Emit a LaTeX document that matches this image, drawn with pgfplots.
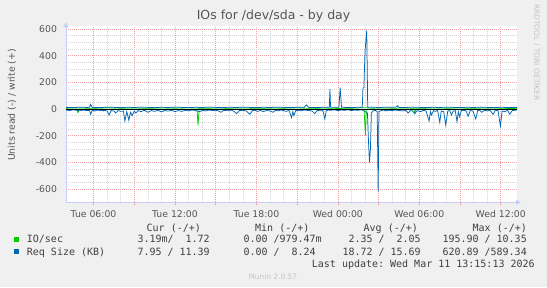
\documentclass[border=0pt]{standalone}
\usepackage{fontspec}
\setmainfont{DejaVu Sans}
\newfontfamily\monof{DejaVu Sans Mono}
\usepackage{pgfplots}
\pgfplotsset{compat=1.18}
\usetikzlibrary{arrows.meta}
\definecolor{bgcol}{HTML}{F0F0F0}
\definecolor{axiscol}{HTML}{C8CDF5}
\definecolor{mgridcol}{HTML}{F0A0A0}
\definecolor{gridcol}{HTML}{D4D4D4}
\definecolor{labelcol}{HTML}{555555}
\definecolor{legcol}{HTML}{404040}
\definecolor{iocol}{HTML}{00CC00}
\definecolor{reqcol}{HTML}{0066B3}
\definecolor{faint}{HTML}{C4C4C4}
\newcommand\ticksfont{\fontsize{9.3}{11}\selectfont}
\begin{document}
\begin{tikzpicture}
\fill[bgcol] (0pt,0pt) rectangle (547pt,-287pt);
\useasboundingbox (0pt,0pt) rectangle (547pt,-287pt);
\begin{axis}[
  at={(66pt,-202.3pt)}, anchor=south west,
  scale only axis, width=451pt, height=176pt,
  xmin=3.97, xmax=37.2, ymin=-700, ymax=620,
  axis lines=left,
  axis line style={draw=axiscol, line width=0.8pt, -{Triangle[length=5pt,width=5pt]}, shorten >=-4pt},
  axis background/.style={fill=white},
  xtick={6,9,...,36},
  xticklabels={Tue 06:00,,Tue 12:00,,Tue 18:00,,Wed 00:00,,Wed 06:00,,Wed 12:00},
  minor x tick num=2,
  ytick={-600,-400,-200,0,200,400,600},
  yticklabels={-600,-400,-200,0,200,400,600},
  minor y tick num=3,
  grid=both,
  major grid style={draw=mgridcol, dash pattern=on 1pt off 1pt, line width=0.5pt},
  minor grid style={draw=gridcol, dash pattern=on 1pt off 1pt, line width=0.5pt},
  tick align=outside, major tick length=2.5pt, minor tick length=0pt,
  xtick style={draw=mgridcol, line width=0.6pt},
  ytick style={draw=none},
  ticklabel style={font=\ticksfont, text=labelcol},
  xticklabel style={yshift=-2pt},
  yticklabel style={xshift=-3pt},
]
% IO/sec read (negative)
\addplot[iocol, line width=0.75pt] coordinates {
(3.97,-1)(4.5,-2)(4.75,-2)(4.85,-28)(4.95,-2)(5.5,-1)(6.0,-2)(6.65,-1)(6.75,-15)(6.85,-1)(7.5,-2)(8.0,-3)(8.5,-1)(9,-2)(9.5,-4)(10,-1)(10.5,-2)(11,-3)(11.2,-10)(11.4,-1)(12,-2)(12.5,-1)(13,-3)(13.5,-2)(13.62,-2)(13.7,-122)(13.78,-2)(14.5,-1)(15,-3)(15.5,-2)(16,-1)(16.5,-3)(17,-2)(17.5,-1)(18,-2)(18.5,-3)(19,-1)(19.5,-2)(20,-1)(20.5,-3)(21,-2)(21.5,-1)(22,-2)(22.5,-1)(23,-3)(23.5,-2)(24,-1)(24.5,-2)(25,-1)(25.5,-2)(25.93,-3)(26.03,-196)(26.1,-3)(26.5,-5)(27,-2)(27.4,-3)(27.5,-15)(27.6,-2)(28,-1)(28.5,-2)(29,-3)(29.6,-2)(29.67,-30)(29.75,-2)(30.5,-1)(31,-2)(31.5,-3)(32,-1)(32.5,-2)(33,-4)(33.5,-1)(34,-2)(34.5,-3)(35,-1)(35.5,-2)(36,-1)(36.5,-2)(37.2,0)
};
% IO/sec write (positive)
\addplot[iocol, line width=0.75pt] coordinates {
(3.97,6)(5,8)(6,5)(7,9)(8,6)(9,7)(10,5)(11,8)(12,6)(13,9)(14,5)(15,7)(16,6)(17,8)(18,5)(19,7)(20,6)(21,9)(22,5)(23,7)(24,4)(25,6)(26,10)(26.5,5)(27,8)(28,6)(29,7)(30,5)(31,8)(32,6)(33,7)(34,5)(35,8)(36,6)(37.2,2)
};
% Req Size read (negative)
\addplot[reqcol, line width=0.75pt] coordinates {
(3.97,-8)(4.25,-12)(4.5,-6)(4.75,-10)(5.0,-14)(5.25,-8)(5.5,-12)(5.7,-10)(5.79,-40)(5.9,-10)(6.1,-15)(6.3,-8)(6.5,-12)(6.75,-10)(7.0,-14)(7.14,-45)(7.3,-12)(7.5,-15)(7.63,-30)(7.8,-12)(8.0,-18)(8.2,-15)(8.31,-90)(8.45,-20)(8.6,-85)(8.72,-25)(8.85,-50)(9.0,-15)(9.12,-30)(9.3,-12)(9.5,-20)(9.75,-10)(10.0,-25)(10.25,-12)(10.5,-18)(10.75,-10)(11.0,-22)(11.25,-12)(11.5,-16)(11.75,-10)(12.0,-20)(12.25,-12)(12.5,-18)(12.75,-10)(13.0,-14)(13.25,-8)(13.5,-12)(13.84,-20)(14.0,-10)(14.25,-15)(14.5,-8)(14.75,-12)(15.0,-10)(15.2,-14)(15.38,-25)(15.6,-10)(15.85,-14)(16.1,-8)(16.3,-15)(16.54,-35)(16.75,-12)(17.0,-10)(17.25,-15)(17.52,-40)(17.7,-12)(17.9,-10)(18.1,-18)(18.3,-10)(18.5,-20)(18.75,-12)(19.0,-14)(19.21,-25)(19.4,-10)(19.6,-14)(19.8,-8)(20.0,-12)(20.2,-18)(20.4,-10)(20.59,-65)(20.68,-20)(20.76,-50)(20.9,-12)(21.1,-10)(21.3,-14)(21.5,-8)(21.69,-10)(21.9,-12)(22.1,-15)(22.3,-35)(22.5,-10)(22.7,-14)(22.9,-12)(23.04,-75)(23.15,-12)(23.3,-8)(23.5,-10)(23.75,-6)(24.0,-12)(24.25,-8)(24.5,-10)(24.75,-6)(25.0,-12)(25.25,-8)(25.5,-10)(25.75,-6)(25.95,-15)(26.1,-25)(26.18,-30)(26.26,-250)(26.33,-400)(26.4,-300)(26.47,-30)(26.6,-15)(26.75,-10)(26.9,-20)(26.97,-620)(27.03,-20)(27.2,-12)(27.4,-8)(27.6,-14)(27.8,-10)(28.0,-12)(28.2,-8)(28.4,-10)(28.6,-12)(28.8,-15)(29.0,-10)(29.18,-30)(29.35,-12)(29.5,-15)(29.67,-35)(29.85,-12)(30.1,-20)(30.3,-10)(30.5,-15)(30.72,-90)(30.82,-20)(30.9,-45)(31.05,-12)(31.2,-18)(31.35,-10)(31.51,-100)(31.62,-15)(31.8,-20)(31.95,-120)(32.1,-15)(32.25,-12)(32.37,-45)(32.5,-15)(32.65,-12)(32.78,-95)(32.88,-20)(32.98,-60)(33.1,-12)(33.3,-10)(33.45,-15)(33.6,-55)(33.75,-12)(33.95,-15)(34.16,-75)(34.3,-12)(34.45,-10)(34.6,-25)(34.8,-10)(35.0,-14)(35.2,-8)(35.44,-40)(35.6,-10)(35.8,-12)(35.98,-130)(36.1,-15)(36.3,-20)(36.5,-10)(36.67,-40)(36.85,-12)(37.0,-10)(37.2,-8)
};
% Req Size write (positive)
\addplot[reqcol, line width=0.75pt] coordinates {
(3.97,12)(4.5,10)(5.0,14)(5.5,11)(5.7,13)(5.79,35)(5.9,12)(6.5,10)(7.0,14)(7.5,12)(8.0,10)(8.5,13)(9.0,11)(9.5,14)(10,12)(10.5,10)(11,13)(11.5,11)(12,14)(12.5,12)(13,10)(13.5,13)(14,11)(14.5,14)(15,12)(15.5,10)(16,13)(16.5,11)(17,14)(17.5,12)(18,10)(18.5,13)(19,11)(19.5,14)(20,12)(20.5,10)(21,13)(21.5,12)(21.69,30)(21.85,12)(22.5,11)(23,13)(23.37,12)(23.42,150)(23.46,14)(23.8,12)(24.08,12)(24.17,160)(24.27,13)(24.5,12)(25,10)(25.5,13)(25.8,12)(25.85,157)(25.92,160)(26.0,430)(26.13,589)(26.2,12)(26.5,14)(27,11)(27.5,13)(28,12)(28.3,14)(28.4,25)(28.5,12)(29,11)(29.5,14)(30,12)(30.5,10)(31,13)(31.5,11)(32,14)(32.5,12)(33,10)(33.5,13)(34,11)(34.5,14)(35,12)(35.5,10)(36,13)(36.5,11)(37.2,11.39)
};
\addplot[black, line width=0.7pt] coordinates {(3.97,0)(37.2,0)};
\end{axis}
\begin{scope}[x=1pt,y=1pt]
\node[anchor=base, text=labelcol, font=\fontsize{12.5}{14}\selectfont] at (273.5,-19.5) {IOs for /dev/sda - by day};
\node[rotate=90, anchor=base, text=labelcol, font=\ticksfont] at (15,-105) {Units read (-) / write (+)};
\node[rotate=-90, anchor=base, text=faint, font=\fontsize{7.5}{9}\selectfont] at (534,-52.5) {RRDTOOL / TOBI OETIKER};
\begin{scope}[every node/.style={inner sep=0pt, anchor=base west, text=legcol, font=\monof\fontsize{10}{12}\selectfont}]
\node at (146.5,-231.2) {Cur~(-/+)};
\node at (255,-231.2) {Min~(-/+)};
\node at (363.5,-231.2) {Avg~(-/+)};
\node at (472.5,-231.2) {Max~(-/+)};
\node at (26.7,-242.8) {IO/sec};
\node at (137.3,-242.8) {3.19m/~~1.72};
\node at (243.3,-242.8) {0.00~/979.47m};
\node at (348.3,-242.8) {2.35~/~~2.05};
\node at (442.3,-242.8) {195.90~/~10.35};
\node at (26.7,-255.2) {Req~Size~(KB)};
\node at (137.3,-255.2) {7.95~/~11.39};
\node at (243.3,-255.2) {0.00~/~~8.24};
\node at (342.3,-255.2) {18.72~/~15.69};
\node at (442.3,-255.2) {620.89~/589.34};
\node at (311.7,-267.5) {Last~update:~Wed~Mar~11~13:15:13~2026};
\end{scope}
\fill[iocol] (14,-236.6) rectangle (19.3,-241.9);
\fill[reqcol] (14,-249) rectangle (19.3,-254.3);
\node[anchor=base, text=faint, font=\fontsize{7.4}{9}\selectfont] at (272.8,-279.4) {Munin 2.0.57};
\end{scope}
\end{tikzpicture}
\end{document}
